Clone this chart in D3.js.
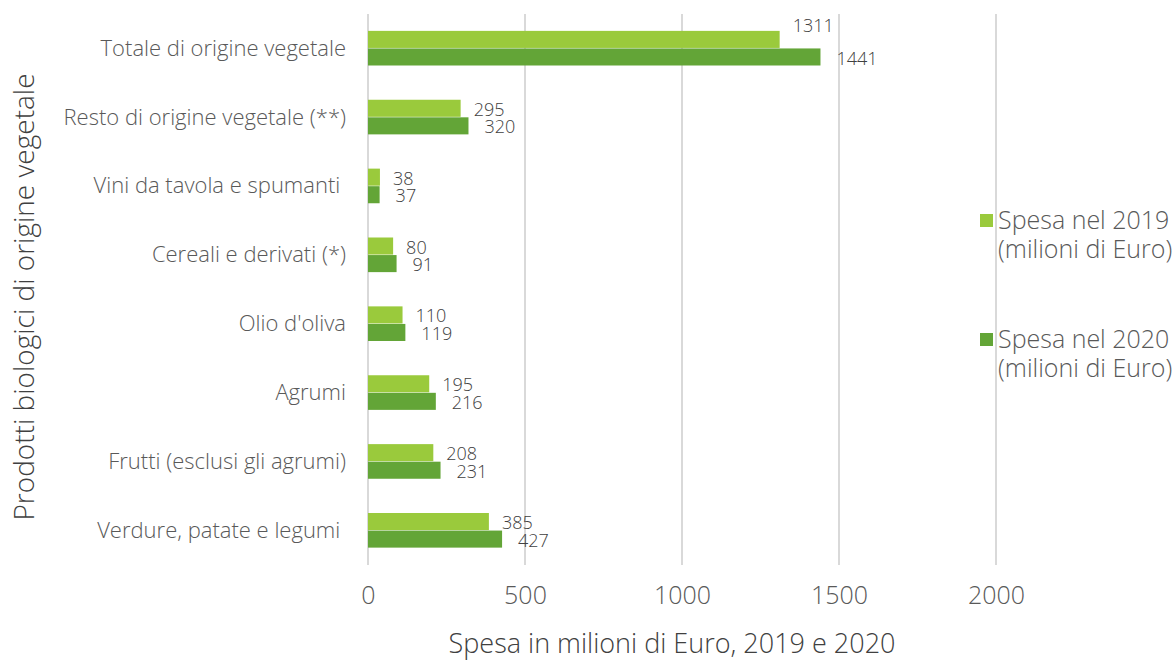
<!DOCTYPE html>
<html><head><meta charset="utf-8">
<script src="https://cdn.jsdelivr.net/npm/d3@7"></script>
<style>body{margin:0;background:#fff}svg{display:block}text{font-family:"Open Sans","Noto Sans",sans-serif;font-weight:300}</style>
</head><body><svg id="c" width="1175" height="661"></svg>
<script>
const categories = ["Totale di origine vegetale","Resto di origine vegetale (**)","Vini da tavola e spumanti ","Cereali e derivati (*)","Olio d'oliva","Agrumi","Frutti (esclusi gli agrumi)","Verdure, patate e legumi "];
const values2019 = [1311,295,38,80,110,195,208,385];
const values2020 = [1441,320,37,91,119,216,231,427];
const seriesNames = ["Spesa nel 2019|(milioni di Euro)","Spesa nel 2020|(milioni di Euro)"];
const xTicks = [0,500,1000,1500,2000];
const colors = ["#9ACA3C","#63A537"];

const svg = d3.select("#c");
const x = d3.scaleLinear().domain([0,2000]).range([368,996]);
const y = d3.scaleBand().domain(categories).range([14,565]).paddingInner(0.49).paddingOuter(0.245);
const sub = d3.scaleBand().domain([0,1]).range([0,y.bandwidth()]);

// gridlines
svg.append("g").selectAll("line").data(xTicks).join("line")
  .attr("x1",d=>x(d)).attr("x2",d=>x(d)).attr("y1",14).attr("y2",565)
  .attr("stroke","#d9d9d9").attr("stroke-width",2);

// x axis
const xa = svg.append("g").attr("transform","translate(0,565)")
  .call(d3.axisBottom(x).tickValues(xTicks).tickSize(0).tickPadding(21).tickFormat(d3.format("d")));
xa.select(".domain").remove();
xa.selectAll("text").attr("font-size",25).attr("fill","#595959").attr("font-family","'Open Sans',sans-serif");

// y axis
const ya = svg.append("g").attr("transform","translate(346,0)")
  .call(d3.axisLeft(y).tickSize(0).tickPadding(0));
ya.select(".domain").remove();
ya.selectAll("text").attr("font-size",22).attr("fill","#595959").attr("font-family","'Open Sans',sans-serif")
  .attr("dy","0.33em").style("white-space","pre");

const series = [values2019, values2020];
series.forEach((vals,si)=>{
  const g = svg.append("g");
  g.selectAll("rect").data(vals).join("rect")
    .attr("x",x(0)).attr("y",(d,i)=>y(categories[i])+sub(si))
    .attr("width",d=>x(d)-x(0)).attr("height",sub.bandwidth()-0.5)
    .attr("fill",colors[si]);
  g.selectAll("text").data(vals).join("text")
    .attr("x",d=>x(d)+(si===0?13:16))
    .attr("y",(d,i)=>y(categories[i])+sub(si)+sub.bandwidth()/2 + (si===0 && i===0 ? -14 : 1))
    .attr("dy","0.35em").attr("font-size",18).attr("fill","#404040")
    .text(d=>d);
});

// legend
const lg = svg.append("g");
const legY = [221, 340];
[0,1].forEach(i=>{
  const yy = legY[i];
  lg.append("rect").attr("x",980).attr("y",yy-7).attr("width",13).attr("height",13).attr("fill",colors[i]);
  const parts = seriesNames[i].split("|");
  lg.append("text").attr("x",998).attr("y",yy+8).attr("font-size",25).attr("fill","#595959").text(parts[0]);
  lg.append("text").attr("x",998).attr("y",yy+37).attr("font-size",25).attr("fill","#595959").text(parts[1]);
});

// axis titles
svg.append("text").attr("x",672).attr("y",653).attr("text-anchor","middle")
  .attr("font-size",27).attr("fill","#404040").text("Spesa in milioni di Euro, 2019 e 2020");
svg.append("text").attr("transform","translate(34,297) rotate(-90)").attr("text-anchor","middle")
  .attr("font-size",28).attr("fill","#404040").text("Prodotti biologici di origine vegetale");
</script></body></html>
